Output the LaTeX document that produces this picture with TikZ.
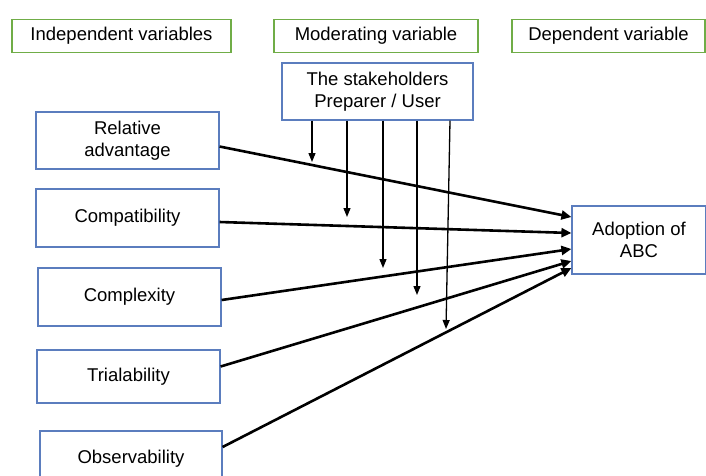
\documentclass[tikz,border=0pt]{standalone}
\usepackage{fontspec}
\setmainfont{Liberation Sans}
\usetikzlibrary{arrows.meta}

\definecolor{boxgreen}{RGB}{112,173,71}
\definecolor{boxblue}{RGB}{91,125,190}

\begin{document}
\begin{tikzpicture}[x=1pt, y=-1pt,
    every node/.style={font=\fontsize{18.5}{22}\selectfont, align=center, inner sep=0pt},
    head/.style={draw=boxgreen, line width=1.3pt, minimum height=33pt},
    var/.style={draw=boxblue, line width=1.2pt, fill=white},
    effect/.style={line width=2.6pt, -{Triangle[length=10pt,width=9pt]}},
    moderate/.style={line width=1.3pt, -{Triangle[length=9pt,width=7pt]}}]
    \useasboundingbox (0,0) rectangle (706,475);

    % column headings
    \node[head, minimum width=219pt] (indep) at (121.5,36) {Independent variables};
    \node[head, minimum width=204pt] (moder) at (376,36) {Moderating variable};
    \node[head, minimum width=193pt] (dep) at (608.5,36) {Dependent variable};

    % variables
    \node[var, minimum width=191pt, minimum height=57pt] (stake) at (377.5,91.5) {The stakeholders\\Preparer / User};
    \node[var, minimum width=183pt, minimum height=57pt] (rel) at (127.5,140.5) {Relative\\advantage};
    \node[var, minimum width=183pt, minimum height=58pt] (compat) at (127.5,218) {Compatibility};
    \node[var, minimum width=183pt, minimum height=58pt] (complex) at (129.5,297) {Complexity};
    \node[var, minimum width=183pt, minimum height=53pt] (trial) at (128.5,376.5) {Trialability};
    \node[var, minimum width=182pt, minimum height=56pt] (obs) at (131,459) {Observability};
    \node[var, minimum width=134pt, minimum height=68pt] (abc) at (639,240) {Adoption of\\ABC};

    % moderating arrows end in the air
    \coordinate (m1) at (312,162);
    \coordinate (m2) at (347,217);
    \coordinate (m3) at (383,268);
    \coordinate (m4) at (417,295);
    \coordinate (m5) at (446,329);

    \draw[effect] ([yshift=-6pt]rel.east) -- ([yshift=23pt]abc.west);
    \draw[effect] ([yshift=-4pt]compat.east) -- ([yshift=7pt]abc.west);
    \draw[effect] ([yshift=-3pt]complex.east) -- ([yshift=-9pt]abc.west);
    \draw[effect] ([yshift=10pt]trial.east) -- ([yshift=-21pt]abc.west);
    \draw[effect] ([yshift=12pt]obs.east) -- ([yshift=-28pt]abc.west);

    \draw[moderate] ([xshift=-65.5pt]stake.south) -- (m1);
    \draw[moderate] ([xshift=-30.5pt]stake.south) -- (m2);
    \draw[moderate] ([xshift=5.5pt]stake.south) -- (m3);
    \draw[moderate] ([xshift=39.5pt]stake.south) -- (m4);
    \draw[moderate] ([xshift=72.5pt]stake.south) -- (m5);
\end{tikzpicture}
\end{document}
